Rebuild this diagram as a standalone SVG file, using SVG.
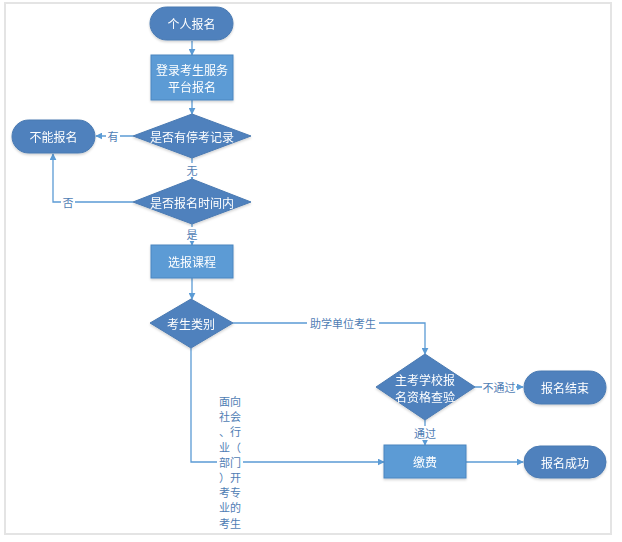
<svg xmlns="http://www.w3.org/2000/svg" width="622" height="542" viewBox="0 0 622 542">
<style>
.frame{fill:#ffffff;stroke:#e4e4e4;stroke-width:2}
.pill{fill:#4f81bd;stroke:#4a7ab2;stroke-width:1}
.box{fill:#5b9bd5;stroke:#4a86c0;stroke-width:1}
.dia{fill:#4f81bd;stroke:#4a7ab2;stroke-width:1}
.t{font-family:"Noto Sans CJK SC","Noto Sans",sans-serif;font-size:12px;fill:#ffffff;text-anchor:middle;dominant-baseline:central}
.lab{font-family:"Noto Sans CJK SC","Noto Sans",sans-serif;font-size:11px;fill:#4f7db4;text-anchor:middle;dominant-baseline:central}
.c{fill:none;stroke:#5b9bd5;stroke-width:1.3}
.bg{fill:#ffffff}
</style>
<defs>
<marker id="ah" viewBox="0 0 10 10" refX="9" refY="5" markerWidth="7" markerHeight="7" markerUnits="userSpaceOnUse" orient="auto">
<path d="M0,0 L10,5 L0,10 z" fill="#5b9bd5"/>
</marker>
<filter id="sh" x="-10%" y="-10%" width="130%" height="140%">
<feDropShadow dx="0" dy="1.5" stdDeviation="1" flood-color="#000" flood-opacity="0.18"/>
</filter>
</defs>
<rect class="frame" x="5" y="3" width="606" height="531"/>

<g id="connectors">
<path class="c" d="M192,41 V55" marker-end="url(#ah)"/>
<path class="c" d="M192,100 V114" marker-end="url(#ah)"/>
<path class="c" d="M133,136 H96" marker-end="url(#ah)"/>
<path class="c" d="M192,158 V179" marker-end="url(#ah)"/>
<path class="c" d="M133,202 H53 V154" marker-end="url(#ah)"/>
<path class="c" d="M192,224 V245" marker-end="url(#ah)"/>
<path class="c" d="M192,278 V299" marker-end="url(#ah)"/>
<path class="c" d="M233,323 H425 V354" marker-end="url(#ah)"/>
<path class="c" d="M475,387 H523" marker-end="url(#ah)"/>
<path class="c" d="M425,420 V445" marker-end="url(#ah)"/>
<path class="c" d="M191,348 V462 H384" marker-end="url(#ah)"/>
<path class="c" d="M466,462 H523" marker-end="url(#ah)"/>
<rect class="bg" x="106" y="129" width="14" height="14"/>
<text class="lab" x="113" y="136">有</text>
<rect class="bg" x="185" y="163" width="14" height="14"/>
<text class="lab" x="192" y="170">无</text>
<rect class="bg" x="61" y="195" width="14" height="14"/>
<text class="lab" x="68" y="202">否</text>
<rect class="bg" x="185" y="227" width="14" height="14"/>
<text class="lab" x="192" y="234">是</text>
<rect class="bg" x="307" y="316" width="72" height="14"/>
<text class="lab" x="343" y="323">助学单位考生</text>
<rect class="bg" x="482" y="380" width="34" height="14"/>
<text class="lab" x="499" y="387">不通过</text>
<rect class="bg" x="413" y="426" width="24" height="14"/>
<text class="lab" x="425" y="433">通过</text>
<rect class="bg" x="217" y="394" width="26" height="137"/>
<text class="lab" x="230" y="401">面向</text>
<text class="lab" x="230" y="416">社会</text>
<text class="lab" x="230" y="431">、行</text>
<text class="lab" x="230" y="447">业（</text>
<text class="lab" x="230" y="462">部门</text>
<text class="lab" x="230" y="477">）开</text>
<text class="lab" x="230" y="492">考专</text>
<text class="lab" x="230" y="507">业的</text>
<text class="lab" x="230" y="523">考生</text>
</g>

<g id="n-start" filter="url(#sh)">
<rect class="pill" x="150" y="7" width="83" height="33" rx="16.5"/>
<text class="t" x="191.5" y="23.5">个人报名</text>
</g>
<g id="n-login" filter="url(#sh)">
<rect class="box" x="151" y="55" width="82" height="45"/>
<text class="t" x="192" y="69">登录考生服务</text>
<text class="t" x="192" y="86">平台报名</text>
</g>
<g id="n-check1" filter="url(#sh)">
<polygon class="dia" points="192,114 251,136 192,158 133,136"/>
<text class="t" x="192" y="136">是否有停考记录</text>
</g>
<g id="n-cannot" filter="url(#sh)">
<rect class="pill" x="12" y="120" width="83" height="33" rx="16.5"/>
<text class="t" x="53.5" y="136.5">不能报名</text>
</g>
<g id="n-check2" filter="url(#sh)">
<polygon class="dia" points="192,179 251,202 192,224 133,202"/>
<text class="t" x="192" y="202">是否报名时间内</text>
</g>
<g id="n-course" filter="url(#sh)">
<rect class="box" x="151" y="245" width="82" height="33"/>
<text class="t" x="192" y="261.5">选报课程</text>
</g>
<g id="n-type" filter="url(#sh)">
<polygon class="dia" points="191,299 233,323 191,348 150,323"/>
<text class="t" x="191" y="323">考生类别</text>
</g>
<g id="n-verify" filter="url(#sh)">
<polygon class="dia" points="425,354 475,387 425,420 376,387"/>
<text class="t" x="425" y="379">主考学校报</text>
<text class="t" x="425" y="396">名资格查验</text>
</g>
<g id="n-end" filter="url(#sh)">
<rect class="pill" x="524" y="371" width="82" height="33" rx="16.5"/>
<text class="t" x="565" y="387.5">报名结束</text>
</g>
<g id="n-pay" filter="url(#sh)">
<rect class="box" x="384" y="445" width="82" height="33"/>
<text class="t" x="425" y="461.5">缴费</text>
</g>
<g id="n-success" filter="url(#sh)">
<rect class="pill" x="524" y="446" width="82" height="32" rx="16"/>
<text class="t" x="565" y="462">报名成功</text>
</g>
</svg>
